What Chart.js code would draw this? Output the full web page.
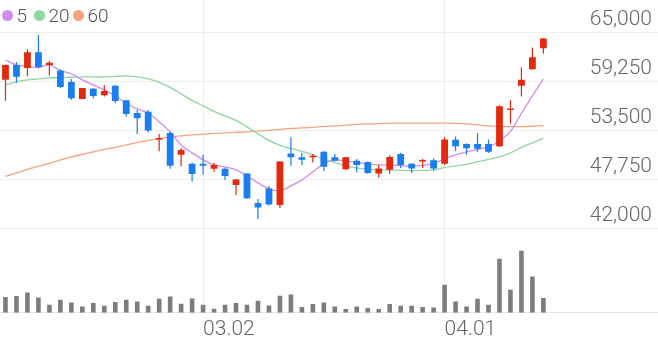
<!DOCTYPE html>
<html>
<head>
<meta charset="utf-8">
<script src="https://cdn.jsdelivr.net/npm/chart.js@4.4.1/dist/chart.umd.min.js"></script>
<style>
  body { margin: 0; background: #fff; }
  #wrap { position: relative; width: 658px; height: 342px; }
  #legend { position: absolute; left: 0; top: 0; font-family: Roboto, sans-serif; font-weight: 300; font-size: 19px; color: #555; }
  #legend .item { position: absolute; top: 4px; display: flex; align-items: center; white-space: nowrap; }
  #legend .dot { width: 10.5px; height: 10.5px; border-radius: 50%; margin-right: 4px; }
</style>
</head>
<body>
<div id="wrap">
  <canvas id="myChart"></canvas>
  <div id="legend"></div>
</div>
<script>
// trading days shown on the chart
var dates = ['02.05','02.06','02.07','02.10','02.11','02.12','02.13','02.14','02.17','02.18',
  '02.19','02.20','02.21','02.24','02.25','02.26','02.27','02.28','03.02','03.03',
  '03.04','03.05','03.06','03.09','03.10','03.11','03.12','03.13','03.16','03.17',
  '03.18','03.19','03.20','03.23','03.24','03.25','03.26','03.27','03.30','03.31',
  '04.01','04.02','04.03','04.06','04.07','04.08','04.09','04.10','04.13','04.14'];
var tickDates = ['03.02', '04.01'];
var priceTicks = [42000, 47750, 53500, 59250, 65000];

var opens = [59500,61250,60900,62750,61250,60550,59250,57250,58450,57700,
  58800,57100,55600,55750,52450,53250,50700,49650,49650,49050,
  49050,47150,48500,45050,46750,44800,50850,50400,50400,51050,
  50400,49000,50000,49850,48500,48950,50800,49650,49900,50050,
  49650,52450,51950,51950,51950,51700,55950,58800,60750,63200];
var highs = [61300,61600,63100,64750,61750,60750,59600,58550,58550,58900,
  58900,57150,55950,55950,53150,53450,51500,49750,50700,49750,
  49200,47850,48550,45500,47050,49950,52750,50950,50800,51100,
  50800,50450,50200,49900,49500,50650,50950,49700,50200,50250,
  52750,52850,52050,53250,52500,56500,57100,60950,63300,64400];
var lows = [57050,59150,59950,60850,60000,58550,57150,57250,57350,57550,
  56750,55200,53150,53300,51100,49050,49350,47550,48350,48700,
  47750,45950,45500,43150,44750,44450,49400,49500,49800,48800,
  49950,48950,48650,48450,48000,48450,49150,48550,49150,48850,
  49500,51150,50700,51050,50900,51600,54350,57550,60700,62550];
var closes = [61250,59850,62750,61000,61500,58650,57350,58550,57600,58200,
  57000,55500,55000,53550,52600,49400,51250,48450,49400,49500,
  48200,47800,45600,44500,44850,49900,50400,50100,50550,49300,
  50000,50400,49500,48550,49100,50450,49500,49100,50000,49100,
  52500,51700,51450,51400,51050,56400,56100,59500,62150,64350];
var volumes = [314000,334000,406000,306000,160000,260000,206000,126000,194000,140000,
  214000,260000,226000,140000,280000,326000,180000,286000,160000,80000,
  160000,194000,160000,240000,146000,340000,366000,114000,174000,206000,
  126000,74000,126000,94000,74000,174000,140000,140000,114000,106000,
  560000,226000,126000,280000,160000,1080000,460000,1240000,726000,294000];

var ma5 = [61830,61245,61070,60950,61245,60600,60190,59485,58900,58310,
  57605,56785,56080,55610,54555,53385,51855,50920,50095,49510,
  49275,48925,48220,47400,46695,46460,47045,47750,48690,49630,
  50095,49980,49805,49630,49510,49510,49395,49335,49450,49685,
  50215,50685,51035,51330,51620,52325,53440,55555,57605,59600];
var ma20 = [58900,59250,59485,59600,59720,59755,59800,59835,59835,59835,
  59895,59955,59835,59600,59190,58605,57840,57080,56435,55790,
  55260,54730,53970,53150,52385,51800,51445,51095,50685,50155,
  49805,49395,49160,49005,48925,48925,48865,48840,48865,48925,
  49215,49395,49570,49860,50155,50450,50920,51565,52090,52645];
var ma60 = [48160,48570,48980,49335,49685,50095,50450,50740,51035,51330,
  51565,51855,52150,52385,52620,52795,52915,53030,53115,53205,
  53265,53325,53385,53500,53560,53675,53795,53850,53910,54030,
  54085,54170,54265,54320,54355,54405,54405,54415,54415,54415,
  54405,54380,54320,54205,54085,54030,54005,54005,54050,54120];

var maLabels = ['5', '20', '60'];
var maColors = ['#d08ded', '#8fd6a1', '#f6a47f'];
var upColor = '#e2280d';
var downColor = '#1a7ef0';

function pts(arr) {
    return arr.map(function (v, i) { return { x: i, y: v }; });
}

var candleColors = closes.map(function (c, i) { return c >= opens[i] ? upColor : downColor; });
var tickIdx = tickDates.map(function (d) { return dates.indexOf(d); });

var maSets = [ma5, ma20, ma60].map(function (arr, k) {
    return {
        type: 'line',
        label: maLabels[k],
        data: pts(arr),
        borderColor: maColors[k],
        borderWidth: 1.3,
        pointRadius: 0,
        tension: 0.3,
        yAxisID: 'y',
        order: 3
    };
});

var ctx = document.getElementById('myChart');
var myChart = new Chart(ctx, {
    type: 'bar',
    data: {
        datasets: [
            {
                label: 'volume',
                data: volumes.map(function (v, i) { return { x: i, y: v }; }),
                backgroundColor: '#7d7d7d',
                yAxisID: 'yVol',
                grouped: false,
                categoryPercentage: 1,
                barPercentage: 0.42,
                order: 4
            },
            {
                label: 'wick',
                data: lows.map(function (l, i) { return { x: i, y: [l, highs[i]] }; }),
                backgroundColor: candleColors,
                yAxisID: 'y',
                grouped: false,
                categoryPercentage: 1,
                barPercentage: 0.11,
                order: 2
            },
            {
                label: 'body',
                data: opens.map(function (o, i) { return { x: i, y: [o, closes[i]] }; }),
                backgroundColor: candleColors,
                yAxisID: 'y',
                grouped: false,
                categoryPercentage: 1,
                barPercentage: 0.62,
                minBarLength: 1.5,
                order: 1
            }
        ].concat(maSets)
    },
    options: {
        responsive: true,
        maintainAspectRatio: false,
        animation: false,
        plugins: {
            legend: { display: false },
            tooltip: { enabled: false }
        },
        scales: {
            x: {
                type: 'linear',
                min: -0.5,
                max: 59.44,
                offset: false,
                afterBuildTicks: function (axis) {
                    axis.ticks = tickIdx.map(function (v) { return { value: v }; });
                },
                ticks: {
                    autoSkip: false,
                    maxRotation: 0,
                    align: 'start',
                    padding: 0,
                    color: '#666',
                    font: { family: 'Roboto', size: 21, weight: '300' },
                    callback: function (v) { return dates[v]; }
                },
                grid: { color: '#eeeeee', offset: false, drawTicks: true, tickLength: 4, tickColor: 'rgba(0,0,0,0)' },
                border: { display: true, color: '#e6e6e6' }
            },
            y: {
                type: 'linear',
                position: 'right',
                min: 32143,
                max: 68872,
                afterBuildTicks: function (axis) {
                    axis.ticks = priceTicks.map(function (v) { return { value: v }; });
                },
                afterFit: function (axis) {
                    axis.width = 0;
                    axis.paddingTop = 0;
                    axis.paddingBottom = 0;
                },
                ticks: {
                    mirror: true,
                    padding: -6,
                    labelOffset: -13,
                    color: '#666',
                    font: { family: 'Roboto', size: 21, weight: '300' },
                    callback: function (v) { return v.toLocaleString('en-US'); }
                },
                grid: { color: '#eeeeee', drawTicks: false },
                border: { display: false }
            },
            yVol: {
                type: 'linear',
                display: false,
                min: 0,
                max: 6260000
            }
        }
    }
});

// legend in the top-left corner, drawn as html
var legendLeft = [2, 34, 73];
var legend = document.getElementById('legend');
maLabels.forEach(function (lab, k) {
    var item = document.createElement('span');
    item.className = 'item';
    item.style.left = legendLeft[k] + 'px';
    var dot = document.createElement('span');
    dot.className = 'dot';
    dot.style.background = maColors[k];
    item.appendChild(dot);
    item.appendChild(document.createTextNode(lab));
    legend.appendChild(item);
});
</script>
</body>
</html>
